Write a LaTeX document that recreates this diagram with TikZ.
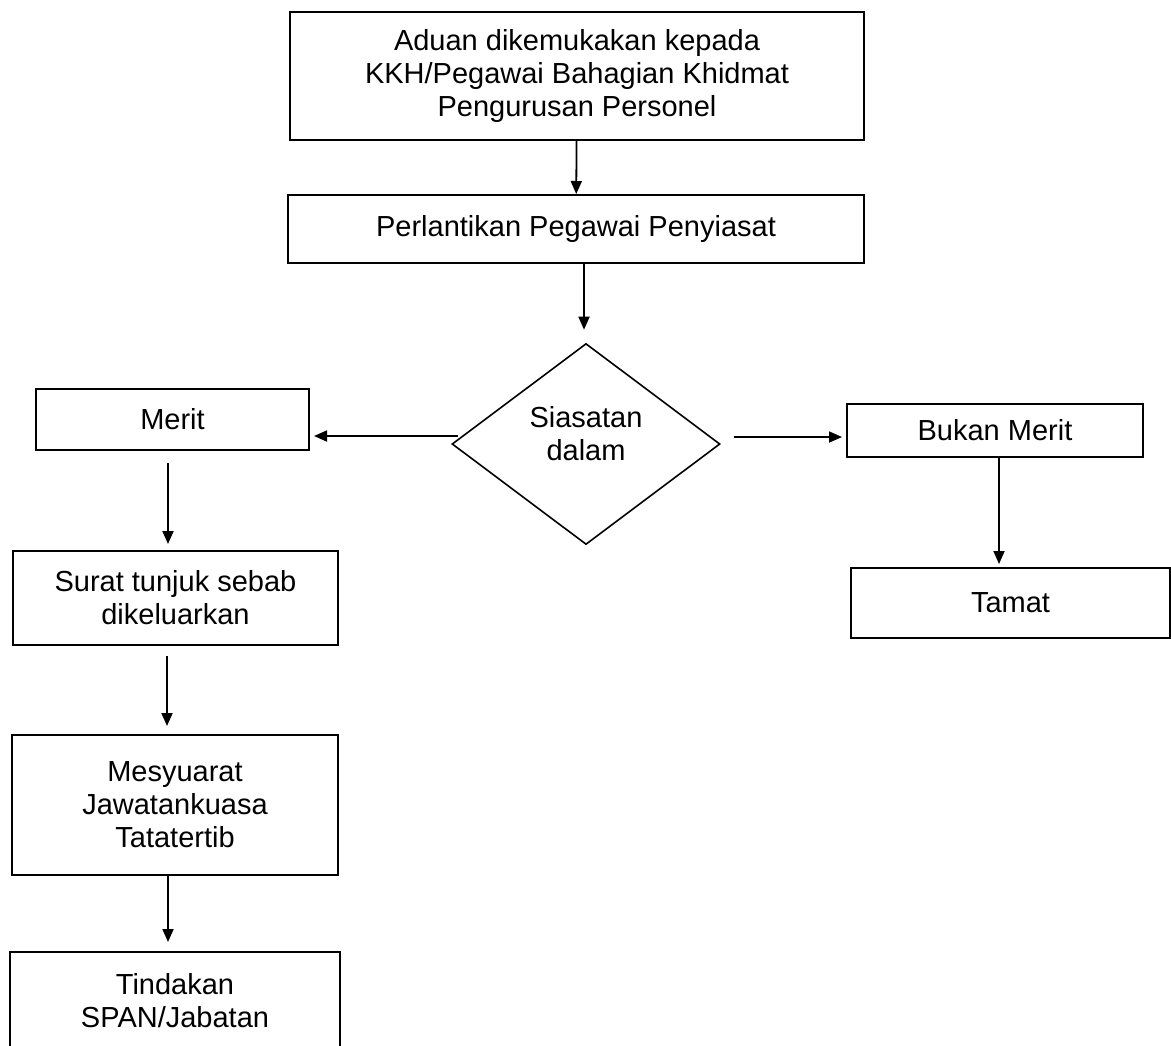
\documentclass[tikz,border=0pt]{standalone}
\usepackage{fontspec}
\setmainfont{Liberation Sans}
\usetikzlibrary{shapes.geometric,arrows.meta}

\begin{document}
\begin{tikzpicture}[x=0.5pt,y=-0.5pt]
        \tikzstyle{box}=[rectangle,draw=black,line width=1pt,align=center,inner sep=0pt,font=\fontsize{14.5pt}{16.5pt}\selectfont]
        \tikzstyle{decision}=[diamond,draw=black,line width=0.8pt,inner sep=0pt,align=center,font=\fontsize{14.5pt}{16.5pt}\selectfont]
        \tikzstyle{edge}=[draw, line width=0.9pt, -{Triangle[length=6.5pt,width=5.5pt]}]
        \useasboundingbox (0,0) rectangle (1171,1045);
        \begin{scope}
                \node [box,minimum width=287pt,minimum height=64pt] (aduan) at (577,76) {Aduan dikemukakan kepada\\KKH/Pegawai Bahagian Khidmat\\Pengurusan Personel};
                \node [box,minimum width=288pt,minimum height=34pt] (lantik) at (576,229) {Perlantikan Pegawai Penyiasat};
                \node [decision,minimum width=134pt,minimum height=100.5pt,text height=27.5pt,text depth=11.5pt] (siasat) at (586,444) {Siasatan\\dalam};
                \node [box,minimum width=136.5pt,minimum height=30.5pt] (merit) at (172.5,419.5) {Merit};
                \node [box,minimum width=148pt,minimum height=26.5pt] (bukan) at (995,430.5) {Bukan Merit};
                \node [box,minimum width=159.5pt,minimum height=35pt] (tamat) at (1010.5,603) {Tamat};
                \node [box,minimum width=162.5pt,minimum height=47pt] (surat) at (175.5,598) {Surat tunjuk sebab\\dikeluarkan};
                \node [box,minimum width=163pt,minimum height=70pt] (mesyuarat) at (175,805) {Mesyuarat\\Jawatankuasa\\Tatatertib};
                \node [box,minimum width=165pt,minimum height=48.5pt] (tindakan) at (175,1000.5) {Tindakan\\SPAN/Jabatan};
                \path (aduan) edge [edge] (lantik);
                \path ([xshift=4pt]lantik.south) edge [edge, shorten >=6.5pt] ([xshift=-1pt]siasat.north);
                \path ([xshift=3.5pt,yshift=4pt]siasat.west) edge [edge, shorten >=2pt] ([yshift=-8.25pt]merit.east);
                \path ([yshift=3.5pt]siasat.east) edge [edge, shorten <=6.5pt, shorten >=2pt] ([yshift=-3.25pt]bukan.west);
                \path ([xshift=2pt]bukan.south) edge [edge, shorten >=1.5pt] ([xshift=-5.75pt]tamat.north);
                \path ([xshift=-2.25pt]merit.south) edge [edge, shorten <=6pt, shorten >=3pt] ([xshift=-3.75pt]surat.north);
                \path ([xshift=-4.25pt]surat.south) edge [edge, shorten <=5pt, shorten >=4pt] ([xshift=-4pt]mesyuarat.north);
                \path ([xshift=-3.5pt]mesyuarat.south) edge [edge, shorten >=4.5pt] ([xshift=-3.5pt]tindakan.north);
        \end{scope}
\end{tikzpicture}
\end{document}
